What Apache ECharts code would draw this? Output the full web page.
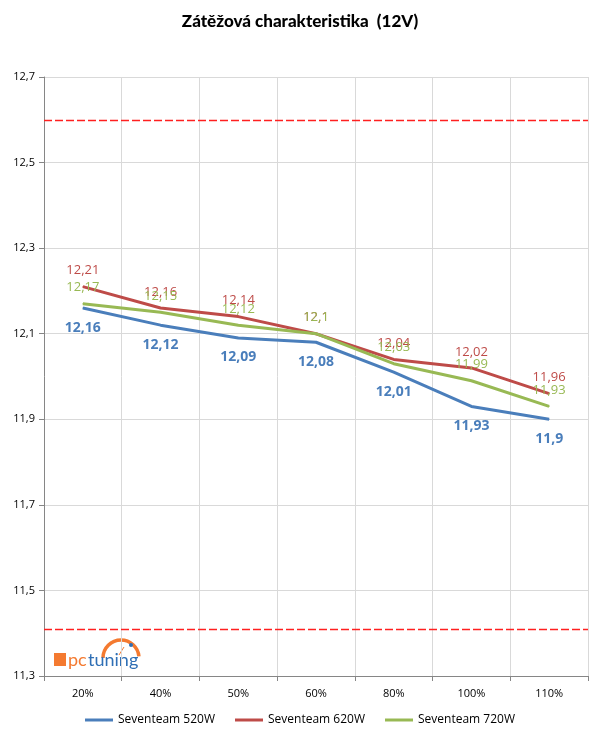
<!DOCTYPE html>
<html><head><meta charset="utf-8">
<script src="https://cdn.jsdelivr.net/npm/echarts@6/dist/echarts.min.js"></script>
<style>html,body{margin:0;padding:0;background:#fff}#c{width:600px;height:736px}</style>
</head><body><div id="c"></div>
<script>
const categories = ['20%','40%','50%','60%','80%','100%','110%'];
const s520 = [12.16,12.12,12.09,12.08,12.01,11.93,11.9];
const s620 = [12.21,12.16,12.14,12.1,12.04,12.02,11.96];
const s720 = [12.17,12.15,12.12,12.1,12.03,11.99,11.93];
const seriesNames = ['Seventeam 520W','Seventeam 620W','Seventeam 720W'];
const limitValues = [12.6, 11.41];
const yMin = 11.3, yMax = 12.7, yStep = 0.2;

const FONT = 'Open Sans';
const comma = v => String(v).replace('.', ',');

const chart = echarts.init(document.getElementById('c'));
chart.setOption({
  animation: false,
  title: {
    text: 'Zátěžová charakteristika  (12V)',
    left: 'center', top: 8,
    textStyle: {fontFamily: 'Lato', fontWeight: 900, fontSize: 17, color: '#000'}
  },
  grid: {left: 44, right: 12, top: 77, bottom: 60, containLabel: false},
  legend: {
    bottom: 5, left: 'center',
    itemWidth: 28, itemHeight: 3, itemGap: 20,
    icon: 'rect',
    textStyle: {fontFamily: FONT, fontSize: 12, color: '#000'},
    data: seriesNames
  },
  xAxis: {
    type: 'category', data: categories, boundaryGap: true,
    axisLine: {lineStyle: {color: '#868686'}},
    axisTick: {show: true, length: 5, lineStyle: {color: '#868686'}},
    axisLabel: {fontFamily: FONT, fontSize: 11, color: '#000', margin: 12},
    splitLine: {show: true, lineStyle: {color: '#D9D9D9'}}
  },
  yAxis: {
    type: 'value', min: yMin, max: yMax, interval: yStep,
    axisLine: {show: true, lineStyle: {color: '#868686'}},
    axisTick: {show: true, length: 5, lineStyle: {color: '#868686'}},
    axisLabel: {fontFamily: FONT, fontSize: 11, color: '#000', margin: 9,
      formatter: v => v.toFixed(1).replace('.', ',')},
    splitLine: {show: true, lineStyle: {color: '#D9D9D9'}}
  },
  series: [
    {
      name: seriesNames[0], type: 'line', data: s520, symbol: 'circle', symbolSize: 1, showSymbol: true,
      lineStyle: {width: 3, color: '#4A7EBB'}, itemStyle: {color: '#4A7EBB'},
      label: {show: true, position: 'bottom', distance: 12, formatter: p => comma(p.value),
        fontFamily: FONT, fontWeight: 'bold', fontSize: 14, color: '#4A7EBB'},
      z: 3
    },
    {
      name: seriesNames[1], type: 'line', data: s620, symbol: 'circle', symbolSize: 1, showSymbol: true,
      lineStyle: {width: 3, color: '#BE4B48'}, itemStyle: {color: '#BE4B48'},
      label: {show: true, position: 'top', distance: 9, formatter: p => comma(p.value),
        fontFamily: FONT, fontSize: 13, color: '#BE4B48'},
      markLine: {
        silent: true, symbol: 'none', label: {show: false},
        lineStyle: {color: '#FF2020', width: 1.3, type: [8, 3]},
        data: limitValues.map(v => ({yAxis: v}))
      },
      z: 4
    },
    {
      name: seriesNames[2], type: 'line', data: s720, symbol: 'circle', symbolSize: 1, showSymbol: true,
      lineStyle: {width: 3, color: '#98B954'}, itemStyle: {color: '#98B954'},
      label: {show: true, position: 'top', distance: 9, formatter: p => comma(p.value),
        fontFamily: FONT, fontSize: 13, color: '#98B954'},
      z: 5
    }
  ],
  graphic: [
    {type: 'rect', shape: {x: 54, y: 653, width: 12, height: 13}, style: {fill: '#F47A30'}},
    {type: 'arc', shape: {cx: 121, cy: 658, r: 18, startAngle: Math.PI * 1.0, endAngle: Math.PI * 1.97},
      style: {stroke: '#F47A30', lineWidth: 3.5, fill: null}},
    {type: 'line', shape: {x1: 119, y1: 655, x2: 124, y2: 647}, style: {stroke: '#F47A30', lineWidth: 1}},
    {type: 'circle', shape: {cx: 131, cy: 645, r: 2}, style: {fill: '#2F6FB5'}},
    {type: 'text', x: 68, y: 651, style: {text: 'pc', fill: '#F47A30', font: '18px Lato'}},
    {type: 'text', x: 88, y: 651, style: {text: 'tuning', fill: '#2F6FB5', font: '18px Lato'}}
  ]
});
</script></body></html>
